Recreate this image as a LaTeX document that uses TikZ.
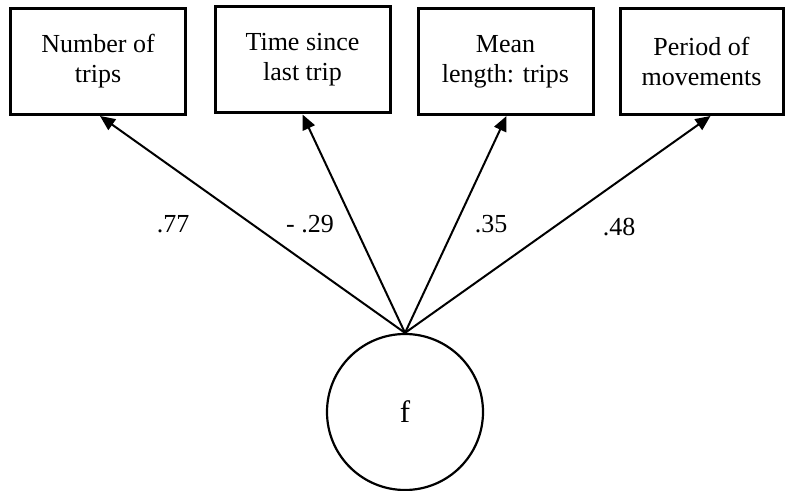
\documentclass[tikz,border=0pt]{standalone}
\usepackage{fontspec}
\setmainfont{Liberation Serif}
\usetikzlibrary{arrows.meta}
\begin{document}
\begin{tikzpicture}[x=0.5pt,y=-0.5pt,
  txt/.style={font=\fontsize{13}{15}\selectfont},
  var/.style={txt,draw,line width=1.5pt,minimum width=87.5pt,minimum height=53pt,
    align=center,inner sep=0pt},
  latent/.style={font=\fontsize{15.5}{18}\selectfont,draw,circle,line width=1.1pt,
    minimum size=78pt,inner sep=0pt},
  load/.style={line width=1pt,-{Triangle[length=7.5pt,width=6.5pt]}},
  coef/.style={txt,anchor=base}]
\useasboundingbox (0,0) rectangle (785,491);

% observed indicators
\node[var] (n1) at (98,61.5) {Number of\\trips};
\node[var] (n2) at (302.5,60) {Time since\\last trip};
\node[var] (n3) at (505.5,61.5) {Mean\\length: trips};
\node[var,minimum width=81.5pt] (n4) at (701.5,61.5) {Period of\\movements};

% latent factor
\node[latent] (f) at (405,412) {f};

% loadings
\draw[load] (f.north) -- ([xshift=1pt]n1.south);
\draw[load] (f.north) -- (n2.south);
\draw[load] (f.north) -- ([xshift=0.5pt]n3.south);
\draw[load] (f.north) -- ([xshift=4.5pt]n4.south);

\node[coef] (c1) at (173,233) {.77};
\node[coef] (c2) at (310,233) {- .29};
\node[coef] (c3) at (491,233) {.35};
\node[coef] (c4) at (619,235) {.48};
\end{tikzpicture}
\end{document}
